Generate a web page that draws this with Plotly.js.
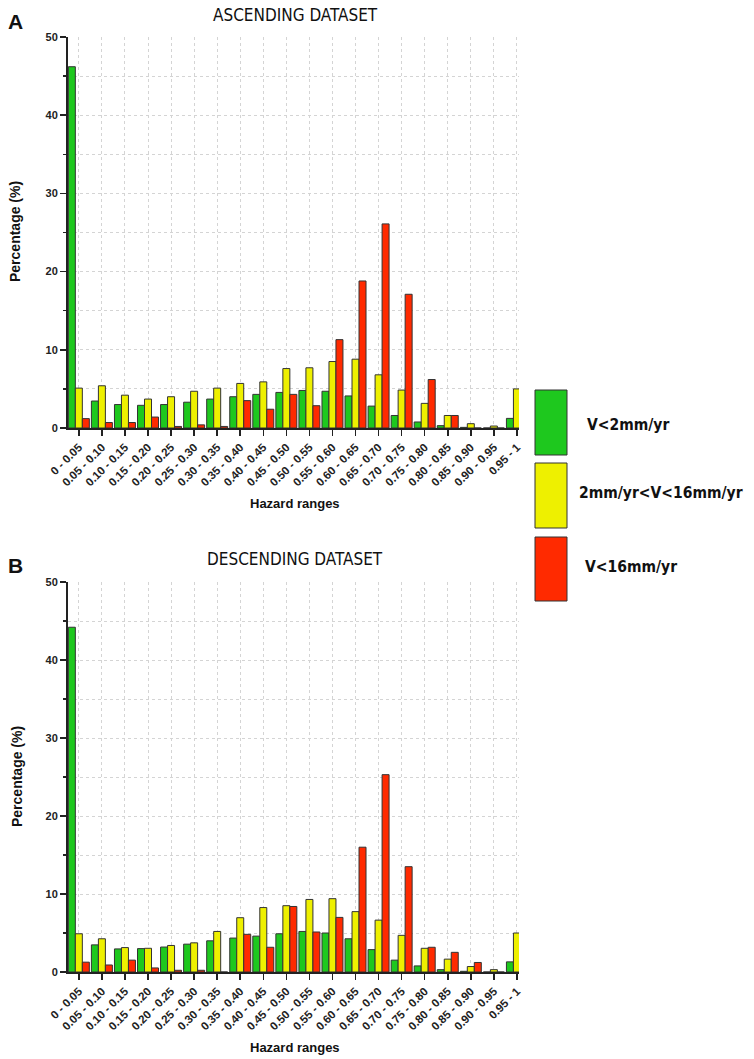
<!DOCTYPE html>
<html>
<head>
<meta charset="utf-8">
<script src="https://cdn.plot.ly/plotly-3.0.1.min.js"></script>
<style>
  html, body { margin: 0; padding: 0; background: #fff; }
  #chart { width: 754px; height: 1059px; }
</style>
</head>
<body>
<div id="chart"></div>
<script>
// Hazard-range distribution of persistent scatterers, ascending vs descending.

const ranges = ['0 - 0.05', '0.05 - 0.10', '0.10 - 0.15', '0.15 - 0.20', '0.20 - 0.25',
                '0.25 - 0.30', '0.30 - 0.35', '0.35 - 0.40', '0.40 - 0.45', '0.45 - 0.50',
                '0.50 - 0.55', '0.55 - 0.60', '0.60 - 0.65', '0.65 - 0.70', '0.70 - 0.75',
                '0.75 - 0.80', '0.80 - 0.85', '0.85 - 0.90', '0.90 - 0.95', '0.95 - 1'];

const seriesNames = ['V<2mm/yr', '2mm/yr<V<16mm/yr', 'V<16mm/yr'];

// ascending dataset (%)
const ascSlow = [46.2, 3.45, 3.0, 2.9, 3.0, 3.3, 3.7, 4.0, 4.3, 4.55,
                 4.8, 4.7, 4.1, 2.8, 1.6, 0.77, 0.3, 0.08, 0.0, 1.23];
const ascMid  = [5.1, 5.4, 4.2, 3.7, 4.0, 4.7, 5.1, 5.7, 5.9, 7.6,
                 7.7, 8.5, 8.8, 6.8, 4.85, 3.15, 1.6, 0.55, 0.25, 5.0];
const ascFast = [1.2, 0.7, 0.7, 1.4, 0.2, 0.4, 0.2, 3.5, 2.4, 4.3,
                 2.85, 11.3, 18.8, 26.1, 17.1, 6.2, 1.6, 0.0, 0.0, 0.2];

// descending dataset (%)
const descSlow = [44.2, 3.48, 2.96, 3.0, 3.2, 3.57, 4.0, 4.35, 4.6, 4.9,
                  5.2, 5.0, 4.26, 2.87, 1.52, 0.78, 0.3, 0.09, 0.0, 1.3];
const descMid  = [4.9, 4.26, 3.13, 3.04, 3.4, 3.74, 5.2, 6.96, 8.26, 8.5,
                  9.3, 9.4, 7.74, 6.65, 4.7, 3.04, 1.65, 0.7, 0.3, 5.0];
const descFast = [1.26, 0.9, 1.52, 0.52, 0.22, 0.22, 0.0, 4.83, 3.17, 8.4,
                  5.13, 7.0, 16.0, 25.3, 13.5, 3.17, 2.52, 1.22, 0.0, 4.48];

const colors = ['#1ec81e', '#eef000', '#ff2a00'];

const W = 754, H = 1059;
const px = x => x / W;          // page pixel -> paper x
const py = y => 1 - y / H;      // page pixel -> paper y

const sansBold = 'Arial, "Liberation Sans", sans-serif';
const narrow   = '"DejaVu Sans Condensed", "Liberation Sans Narrow", sans-serif';

function barTraces(vals, xa, ya) {
    return vals.map((v, i) => ({
        type: 'bar', x: ranges, y: v, xaxis: xa, yaxis: ya,
        name: seriesNames[i], showlegend: false,
        marker: { color: colors[i], line: { color: '#333', width: 1 } },
        hovertemplate: '%{x}<br>' + seriesNames[i] + ': %{y}%<extra></extra>'
    }));
}

const traces = [
    ...barTraces([ascSlow, ascMid, ascFast], 'x', 'y'),
    ...barTraces([descSlow, descMid, descFast], 'x2', 'y2'),
];

const xDomain = [px(68), px(519)];
const xRange  = [-0.47, 19.09];

function catAxis(anchor) {
    return {
        domain: xDomain, anchor, type: 'category', range: xRange,
        showline: true, linecolor: '#222', linewidth: 2,
        ticks: 'outside', ticklen: 6, tickwidth: 1.5, tickcolor: '#222',
        tickangle: -45,
        tickfont: { family: sansBold, size: 11.5, color: '#222', weight: 'bold' },
        showgrid: true, gridcolor: '#d4d4d4', griddash: 'dot', gridwidth: 1,
        zeroline: false, fixedrange: true,
    };
}

function valAxis(domain, anchor) {
    return {
        domain, anchor, range: [0, 50], tickvals: [0, 10, 20, 30, 40, 50],
        showline: true, linecolor: '#222', linewidth: 2,
        ticks: 'outside', ticklen: 6, tickwidth: 1.5, tickcolor: '#222',
        tickfont: { family: sansBold, size: 11, color: '#222', weight: 'bold' },
        showgrid: true, gridcolor: '#d4d4d4', griddash: 'dot',
        minor: { dtick: 5, ticks: 'outside', ticklen: 3, tickcolor: '#222',
                 showgrid: true, gridcolor: '#d4d4d4', griddash: 'dot' },
        zeroline: false, fixedrange: true,
    };
}

// frame axes on top/right with inward ticks, like the original software
function topAxis(overlay, anchor) {
    return {
        overlaying: overlay, anchor, side: 'top', domain: xDomain,
        type: 'linear', range: xRange, tick0: 0, dtick: 1,
        showline: true, linecolor: '#222', linewidth: 2,
        ticks: 'inside', ticklen: 6, tickwidth: 1.5, tickcolor: '#222',
        showticklabels: false, showgrid: false, zeroline: false, fixedrange: true,
    };
}
function rightAxis(overlay, anchor) {
    return {
        overlaying: overlay, anchor, side: 'right',
        range: [0, 50], tick0: 0, dtick: 5,
        showline: true, linecolor: '#222', linewidth: 2,
        ticks: 'inside', ticklen: 5, tickwidth: 1.5, tickcolor: '#222',
        showticklabels: false, showgrid: false, zeroline: false, fixedrange: true,
    };
}

const topDomain = [py(428), py(37)];
const botDomain = [py(972), py(582)];

const legendBoxes = [[390, 455], [463, 528], [537, 601]];
const legendText  = [[585, 425], [577, 493], [583, 567]];

const shapes = legendBoxes.map((b, i) => ({
    type: 'rect', xref: 'paper', yref: 'paper',
    x0: px(535), x1: px(567), y0: py(b[1]), y1: py(b[0]),
    fillcolor: colors[i], line: { color: '#333', width: 1 }
}));

const annotations = [
    { text: 'ASCENDING DATASET', x: px(295), y: py(15) },
    { text: 'DESCENDING DATASET', x: px(295), y: py(559) },
].map(a => ({ ...a, xref: 'paper', yref: 'paper', showarrow: false,
              xanchor: 'center', yanchor: 'middle',
              font: { family: narrow, size: 17, color: '#111' } }));

annotations.push(
    ...[['A', 22], ['B', 565]].map(([t, y]) => ({
        text: '<b>' + t + '</b>', x: px(15), y: py(y), xref: 'paper', yref: 'paper',
        showarrow: false, xanchor: 'center', yanchor: 'middle',
        font: { family: sansBold, size: 21, color: '#111' } })),
    ...[[15, 232], [17, 777]].map(([x, y]) => ({
        text: '<b>Percentage (%)</b>', x: px(x), y: py(y), xref: 'paper', yref: 'paper',
        showarrow: false, textangle: -90, xanchor: 'center', yanchor: 'middle',
        font: { family: sansBold, size: 14, color: '#111' } })),
    ...[503, 1047].map(y => ({
        text: '<b>Hazard ranges</b>', x: px(295), y: py(y), xref: 'paper', yref: 'paper',
        showarrow: false, xanchor: 'center', yanchor: 'middle',
        font: { family: sansBold, size: 13, color: '#111' } })),
    ...legendText.map(([x, y], i) => ({
        text: '<b>' + seriesNames[i].replace(/</g, '&lt;') + '</b>',
        x: px(x), y: py(y), xref: 'paper', yref: 'paper',
        showarrow: false, xanchor: 'left', yanchor: 'middle',
        font: { family: narrow, size: 15.5, color: '#111' } }))
);

const layout = {
    width: W, height: H,
    margin: { l: 0, r: 0, t: 0, b: 0 },
    paper_bgcolor: '#fff', plot_bgcolor: '#fff',
    barmode: 'group', bargap: 0.09, bargroupgap: 0,
    showlegend: false,
    xaxis:  catAxis('y'),
    yaxis:  valAxis(topDomain, 'x'),
    xaxis2: catAxis('y2'),
    yaxis2: valAxis(botDomain, 'x2'),
    xaxis3: topAxis('x', 'y'),
    yaxis3: { ...rightAxis('y', 'x'), domain: topDomain },
    xaxis4: topAxis('x2', 'y2'),
    yaxis4: { ...rightAxis('y2', 'x2'), domain: botDomain },
    shapes, annotations,
};

Plotly.newPlot('chart', traces, layout, { displayModeBar: false, staticPlot: true });
</script>
</body>
</html>
